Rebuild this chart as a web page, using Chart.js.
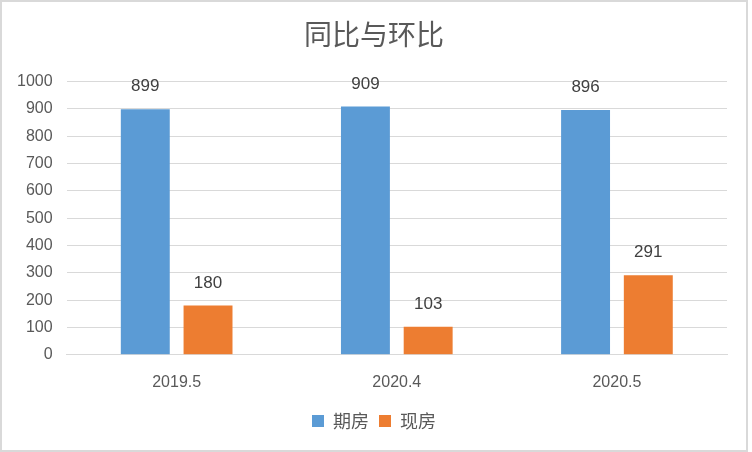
<!DOCTYPE html>
<html>
<head>
<meta charset="utf-8">
<script src="https://cdn.jsdelivr.net/npm/chart.js@4"></script>
<style>
  html, body { margin: 0; padding: 0; background: #fff; }
  #wrap { width: 744px; height: 448px; border: 2px solid #d9d9d9; }
</style>
</head>
<body>
<div id="wrap"><canvas id="mainChart" width="744" height="448"></canvas></div>
<script>
const categories = ['2019.5', '2020.4', '2020.5'];
const futureHouses = [899, 909, 896];
const existingHouses = [180, 103, 291];
const yTicks = [0, 100, 200, 300, 400, 500, 600, 700, 800, 900, 1000];

const cjkFont = '"Noto Sans CJK SC", sans-serif';
const numFont = '"Liberation Sans", "Noto Sans CJK SC", sans-serif';

// draws the value above each bar
const valueLabels = {
    id: 'valueLabels',
    afterDatasetsDraw(chart) {
        const ctx = chart.ctx;
        ctx.save();
        ctx.fillStyle = '#404040';
        ctx.font = '17px ' + numFont;
        ctx.textAlign = 'center';
        ctx.textBaseline = 'bottom';
        chart.data.datasets.forEach((ds, i) => {
            chart.getDatasetMeta(i).data.forEach((bar, j) => {
                ctx.fillText(ds.data[j], bar.x, bar.y - 14);
            });
        });
        ctx.restore();
    }
};

// title and legend centred on the whole canvas, not on the padded area
const centerBlocks = {
    id: 'centerBlocks',
    afterLayout(chart) {
        [chart.titleBlock, chart.legend].forEach(b => {
            if (b) { b.left = 0; b.right = chart.width; }
        });
    }
};

const ctxMain = document.getElementById('mainChart').getContext('2d');
window.mainChart = new Chart(ctxMain, {
    type: 'bar',
    data: {
        labels: categories,
        datasets: [{
            label: '期房',
            data: futureHouses,
            backgroundColor: '#5b9bd5',
            categoryPercentage: 0.57,
            barPercentage: 0.78
        }, {
            label: '现房',
            data: existingHouses,
            backgroundColor: '#ed7d31',
            categoryPercentage: 0.57,
            barPercentage: 0.78
        }]
    },
    options: {
        responsive: false,
        animation: false,
        layout: { padding: { left: 1, right: 19, top: 4, bottom: 10 } },
        plugins: {
            title: {
                display: true,
                text: '同比与环比',
                color: '#595959',
                font: { family: cjkFont, size: 28, weight: 'normal' },
                padding: { top: 12, bottom: 30 }
            },
            legend: {
                position: 'bottom',
                labels: {
                    color: '#595959',
                    font: { family: cjkFont, size: 18 },
                    boxWidth: 12,
                    boxHeight: 12,
                    padding: 10
                }
            },
            tooltip: { enabled: false }
        },
        scales: {
            x: {
                grid: { display: false },
                border: { color: '#d9d9d9', width: 1 },
                ticks: {
                    color: '#595959',
                    font: { family: numFont, size: 16 },
                    padding: 10
                }
            },
            y: {
                min: 0,
                max: 1000,
                afterBuildTicks(axis) {
                    axis.ticks = yTicks.map(v => ({ value: v }));
                },
                grid: { color: '#d9d9d9', lineWidth: 1, drawTicks: false },
                border: { display: false },
                ticks: {
                    color: '#595959',
                    font: { family: numFont, size: 16 },
                    padding: 14,
                    callback: v => String(v)
                }
            }
        }
    },
    plugins: [valueLabels, centerBlocks]
});
</script>
</body>
</html>
